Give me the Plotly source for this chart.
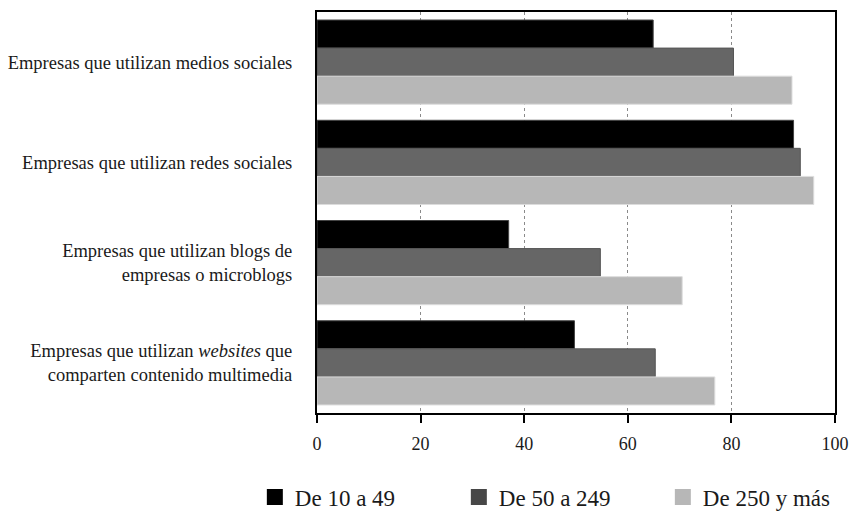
import plotly.graph_objects as go

# Categories (top to bottom) and shares of companies (%) per size band
categorias = [
    "Empresas que utilizan medios sociales",
    "Empresas que utilizan redes sociales",
    "Empresas que utilizan blogs de<br>empresas o microblogs",
    "Empresas que utilizan <i>websites</i> que<br>comparten contenido multimedia",
]
series = ["De 10 a 49", "De 50 a 249", "De 250 y más"]
de_10_a_49 = [64.9, 92.0, 37.0, 49.7]
de_50_a_249 = [80.4, 93.3, 54.7, 65.3]
de_250_y_mas = [91.7, 95.9, 70.5, 76.8]
x_ticks = [0, 20, 40, 60, 80, 100]

valores = [de_10_a_49, de_50_a_249, de_250_y_mas]
colores_barra = ["#000000", "#666666", "#b7b7b7"]
bordes_barra = ["#444444", "#555555", "#dddddd"]
colores_leyenda = ["#000000", "#474747", "#b7b7b7"]

FONT = "Liberation Serif, serif"

fig = go.Figure()
for nombre, vals, col, borde in zip(series, valores, colores_barra, bordes_barra):
    fig.add_trace(go.Bar(
        y=categorias, x=vals, orientation="h", name=nombre,
        marker=dict(color=col, line=dict(color=borde, width=1)),
        showlegend=False,
    ))

# square legend swatches
for nombre, col in zip(series, colores_leyenda):
    fig.add_trace(go.Scatter(
        x=[None], y=[None], mode="markers", name=nombre,
        marker=dict(symbol="square", size=16, color=col),
    ))

fig.update_layout(
    width=849, height=514,
    margin=dict(l=317, r=14, t=12, b=101, autoexpand=False),
    paper_bgcolor="white", plot_bgcolor="white",
    barmode="group", bargap=0.16, bargroupgap=0,
    font=dict(family=FONT, color="#1a1a1a"),
    legend=dict(
        orientation="h", x=-0.12, xanchor="left", y=-0.2095, yanchor="middle",
        font=dict(size=23, family=FONT, color="#1a1a1a"),
        entrywidth=159, entrywidthmode="pixels",
        itemsizing="trace",
    ),
    xaxis=dict(
        range=[0, 100], tickvals=x_ticks, ticktext=[str(t) for t in x_ticks],
        showgrid=True, gridcolor="#8a8a8a", griddash="dot", gridwidth=1,
        zeroline=False, showline=True, linecolor="black", linewidth=2,
        mirror=True, ticks="outside", ticklen=8, tickwidth=2, tickcolor="black",
        tickfont=dict(size=18, family=FONT, color="#1a1a1a"),
        ticklabelstandoff=5,
    ),
    yaxis=dict(
        type="category", categoryorder="array", categoryarray=categorias,
        autorange="reversed", showgrid=False, zeroline=False,
        showline=True, linecolor="black", linewidth=2, mirror=True,
        ticks="", tickfont=dict(size=18.5, family=FONT, color="#1a1a1a"),
        ticklabelstandoff=19,
    ),
)

fig.write_html("out.html")
